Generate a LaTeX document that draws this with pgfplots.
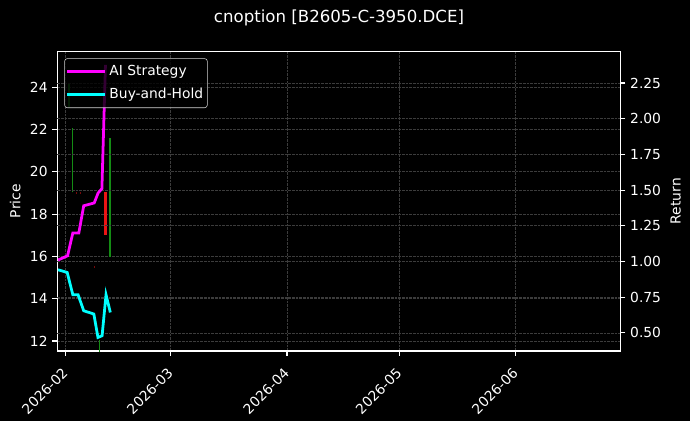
\documentclass[border=0pt]{standalone}
\usepackage{pgfplots}
\pgfplotsset{compat=1.18}
\usepackage{fontspec}
\setmainfont{DejaVu Sans}

\definecolor{gridc}{RGB}{60,60,60}
\definecolor{candg}{RGB}{20,140,20}
\definecolor{candr}{RGB}{235,20,20}
\definecolor{dimr}{RGB}{120,10,10}
\definecolor{aimag}{RGB}{255,0,255}
\definecolor{bhcyan}{RGB}{0,255,255}
\definecolor{legframe}{RGB}{210,210,210}

\pgfplotsset{
  base/.style={
    scale only axis,
    width=5.632in, height=2.997in,
    at={(0.573in,0.70in)}, anchor=south west,
    xmin=-2.24, xmax=147.9,
    axis line style={white, line width=0.8pt},
    tick style={white, line width=0.8pt},
    major tick length=3.5pt,
    tick align=outside,
    ticklabel style={text=white, font=\fontsize{10}{12}\selectfont},
    label style={text=white, font=\fontsize{10}{12}\selectfont},
    /pgf/number format/assume math mode=true,
    major grid style={gridc, dash pattern=on 1.85pt off 0.8pt, line width=0.5pt},
  },
}

\begin{document}
\begin{tikzpicture}
\useasboundingbox (0,0) rectangle (6.9in,4.21in);
\fill[black] (0,0) rectangle (6.9in,4.21in);

% price axis with candles
\begin{axis}[base,
    ymin=11.53, ymax=25.69,
    ytick={12,14,16,18,20,22,24},
    xtick={0,28,59,89,120},
    xticklabels={2026-02,2026-03,2026-04,2026-05,2026-06},
    xticklabel style={rotate=45, anchor=north east, xshift=-0.06in},
    xtick pos=bottom, ytick pos=left,
    grid=major,
    ylabel={Price},
  ]
\addplot[candg, line width=1pt] coordinates {(0.9,23.05) (0.9,24.2)};
\addplot[candg, line width=1pt] coordinates {(1.87,19.02) (1.87,22.05)};
\addplot[dimr, line width=1pt] coordinates {(2.9,18.96) (2.9,19.04)};
\addplot[dimr, line width=1pt] coordinates {(3.9,18.96) (3.9,19.04)};
\addplot[dimr, line width=1pt] coordinates {(7.7,15.46) (7.7,15.54)};
\addplot[candg, line width=1pt] coordinates {(8.96,11.0) (8.96,12.05)};
\addplot[candr, line width=2pt] coordinates {(10.67,17.0) (10.67,19.05)};
\addplot[candg, line width=1pt] coordinates {(11.8,15.98) (11.8,21.59)};
\end{axis}

% return axis
\begin{axis}[base,
    axis x line=none, axis y line*=right,
    ymin=0.373, ymax=2.472,
    ytick={0.5,0.75,1,1.25,1.5,1.75,2,2.25},
    yticklabels={0.50,0.75,1.00,1.25,1.50,1.75,2.00,2.25},
    ymajorgrids=true,
    ylabel={Return},
    legend cell align=left,
    legend image code/.code={
      \path (0in,0in) -- (0.38in,0in);
      \draw[#1] (0.04in,0in) -- (0.33in,0in);},
    legend style={at={(0,1)}, anchor=north west, xshift=0.07in, yshift=-0.07in,
      fill=black, fill opacity=0.8, draw opacity=1, text opacity=1,
      draw=legframe, rounded corners=2pt, text=white,
      font=\fontsize{10}{12}\selectfont, row sep=3.5pt,
      inner xsep=1pt, inner ysep=3pt},
  ]
\addplot[aimag, line width=2pt] coordinates {
  (-2.05,1.01) (0.5,1.04) (1.9,1.20) (3.5,1.20) (4.8,1.39)
  (7.6,1.41) (8.65,1.48) (9.65,1.51) (10.6,2.377)};
\addlegendentry{AI Strategy}
\addplot[bhcyan, line width=2pt] coordinates {
  (-2.05,0.942) (0.4,0.923) (1.9,0.767) (3.3,0.767) (4.8,0.655)
  (7.5,0.632) (8.6,0.468) (9.7,0.48) (10.75,0.767) (11.9,0.643)};
\addlegendentry{Buy-and-Hold}
\end{axis}

\node[text=white, font=\fontsize{12}{14}\selectfont] at (3.39in,4.03in) {cnoption [B2605-C-3950.DCE]};
\end{tikzpicture}
\end{document}
